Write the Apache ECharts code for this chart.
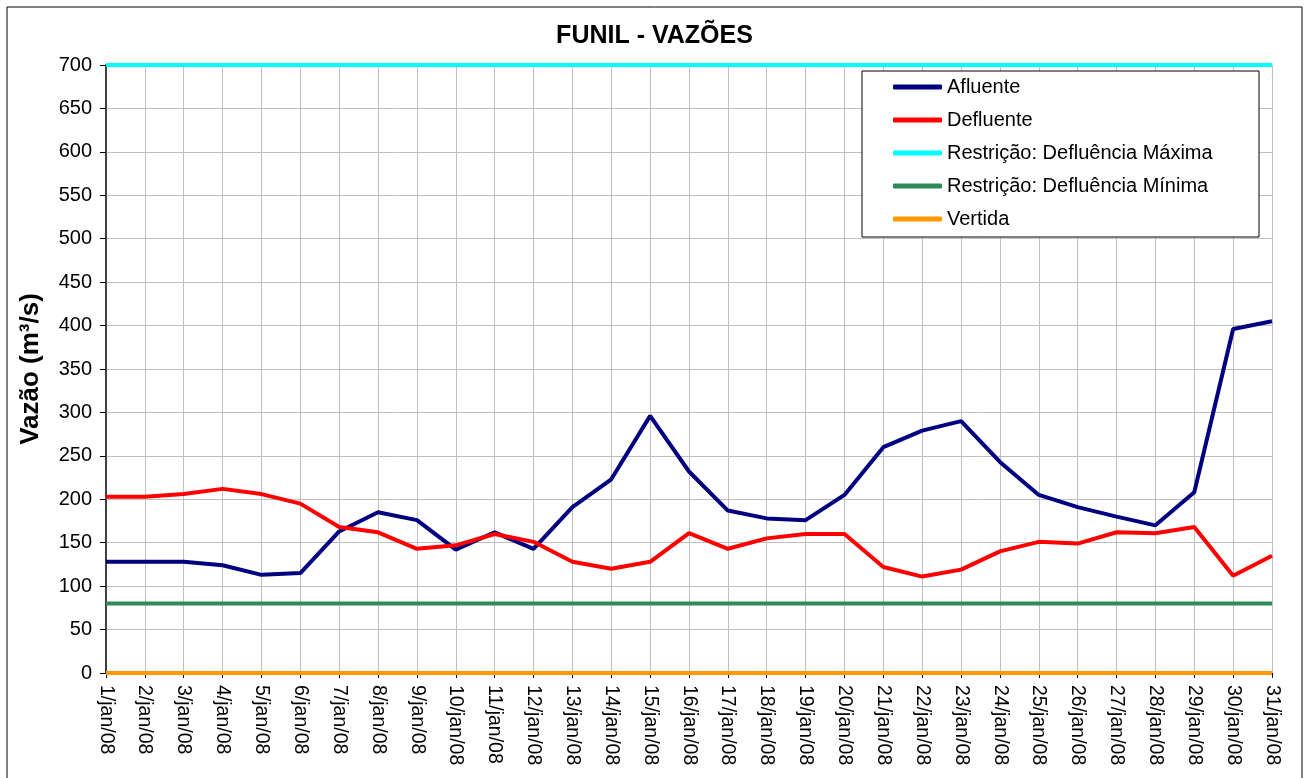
<!DOCTYPE html>
<html><head><meta charset="utf-8">
<script src="https://cdn.jsdelivr.net/npm/echarts@6/dist/echarts.min.js"></script>
<style>html,body{margin:0;padding:0;background:#fff}#c{width:1309px;height:778px}</style>
</head><body><div id="c"></div>
<script>
const days = [];
for (let d = 1; d <= 31; d++) days.push(d + '/jan/08');
const afluente = [128,128,128,124,113,115,163,185,176,142,162,143,191,223,296,232,187,178,176,205,260,279,290,243,205,191,180,170,208,396,405];
const defluente = [203,203,206,212,206,195,168,162,143,147,160,151,128,120,128,161,143,155,160,160,122,111,119,140,151,149,162,161,168,112,135];
const deflMax = days.map(() => 700);
const deflMin = days.map(() => 80);
const vertida = days.map(() => 0);
const yTicks = [0,50,100,150,200,250,300,350,400,450,500,550,600,650,700];

const font = 'Liberation Sans, Arial, sans-serif';
const chart = echarts.init(document.getElementById('c'));
function ser(name, data, color, z) {
  return {name, type:'line', data, symbol:'none', z: z,
    lineStyle:{color, width:4}, itemStyle:{color}};
}
chart.setOption({
  animation:false,
  backgroundColor:'#fff',
  title:{text:'FUNIL - VAZÕES', left:'center', top:19,
    textStyle:{fontFamily:font, fontSize:25, fontWeight:'bold', color:'#000'}},
  grid:{left:106, right:37, top:65, bottom:105, show:false},
  legend:{orient:'vertical', left:862, top:71, z:20,
    padding:[6,10,8,31], itemGap:13, itemWidth:49, itemHeight:5, icon:'roundRect',
    textStyle:{fontFamily:font, fontSize:20, color:'#000', padding:[0,0,0,0]},
    data:['Afluente','Defluente','Restrição: Defluência Máxima','Restrição: Defluência Mínima','Vertida']},
  xAxis:{type:'category', data:days, boundaryGap:false,
    axisLine:{lineStyle:{color:'#808080', width:1}},
    axisTick:{alignWithLabel:true, length:5, lineStyle:{color:'#000'}},
    axisLabel:{rotate:-90, interval:0, fontFamily:font, fontSize:19.5, color:'#000', margin:12},
    splitLine:{show:true, lineStyle:{color:'#c0c0c0', width:1}}},
  yAxis:{type:'value', min:0, max:700, interval:50,
    name:'Vazão (m³/s)', nameLocation:'middle', nameGap:62,
    nameTextStyle:{fontFamily:font, fontSize:26, fontWeight:'bold', color:'#000'},
    axisLine:{show:true, lineStyle:{color:'#404040', width:2}},
    axisTick:{show:true, length:6, lineStyle:{color:'#000'}},
    axisLabel:{fontFamily:font, fontSize:20, color:'#000', margin:14,
      formatter: v => yTicks.includes(v) ? String(v) : ''},
    splitLine:{lineStyle:{color:'#c0c0c0', width:1}}},
  graphic:[
    {type:'rect', shape:{x:7,y:7,width:1295,height:800}, style:{fill:'none', stroke:'#000', lineWidth:1}, z:-1},
    {type:'rect', shape:{x:862,y:71,width:397,height:166}, style:{fill:'#fff', stroke:'#000', lineWidth:1}, z:10}
  ],
  series:[
    ser('Afluente', afluente, '#000080', 5),
    ser('Defluente', defluente, '#ff0000', 5),
    ser('Restrição: Defluência Máxima', deflMax, '#00ffff', 4),
    ser('Restrição: Defluência Mínima', deflMin, '#2e8b57', 4),
    ser('Vertida', vertida, '#ff9900', 4)
  ]
});
</script></body></html>
